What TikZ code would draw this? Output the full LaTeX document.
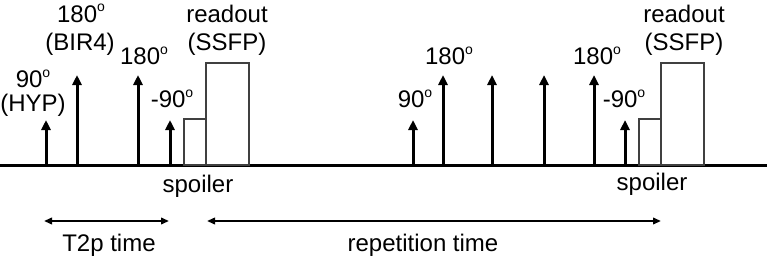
\documentclass[tikz,border=0pt]{standalone}
\usepackage{fontspec}
\setmainfont{Liberation Sans}
\usetikzlibrary{arrows.meta}
\newcommand{\dg}{\raisebox{10pt}{\fontsize{14}{14}\selectfont o}}
\begin{document}
\begin{tikzpicture}[x=1pt,y=-1pt,
  lbl/.style={anchor=base,inner sep=0pt,font=\fontsize{24}{28}\selectfont},
  pulse/.style={line width=3pt,-{Triangle[length=10pt,width=9pt]}},
  gbox/.style={draw=black!75,line width=2.5pt},
  span/.style={line width=2pt,{Triangle[length=8pt,width=6.5pt]}-{Triangle[length=8pt,width=6.5pt]}}]
\useasboundingbox (0,0) rectangle (768,257);
% time axis
\coordinate (a0) at (0,165);
\coordinate (a1) at (767,165);
\draw[line width=3pt] (a0) -- (a1);
% left pulses
\coordinate (p1b) at (46,165); \coordinate (p1t) at (46,120);
\coordinate (p2b) at (77,165); \coordinate (p2t) at (77,75);
\coordinate (p3b) at (138,165); \coordinate (p3t) at (138,75);
\coordinate (p4b) at (170,165); \coordinate (p4t) at (170,120);
\foreach \i in {1,2,3,4} \draw[pulse] (p\i b) -- (p\i t);
% right pulses
\coordinate (q1b) at (413,165); \coordinate (q1t) at (413,120);
\coordinate (q2b) at (443,165); \coordinate (q2t) at (443,75);
\coordinate (q3b) at (492,165); \coordinate (q3t) at (492,75);
\coordinate (q4b) at (544,165); \coordinate (q4t) at (544,75);
\coordinate (q5b) at (594,165); \coordinate (q5t) at (594,75);
\coordinate (q6b) at (625,165); \coordinate (q6t) at (625,120);
\foreach \i in {1,...,6} \draw[pulse] (q\i b) -- (q\i t);
% boxes
\draw[gbox] (184,165) rectangle (206,119);
\draw[gbox] (206,165) rectangle (249,63);
\draw[gbox] (639,165) rectangle (661,119);
\draw[gbox] (661,165) rectangle (704,63);
% labels left
\node[lbl] (l90) at (33,87) {90\dg};
\node[lbl] (lhyp) at (33,111) {(HYP)};
\node[lbl] (l180a) at (81,22) {180\dg};
\node[lbl] (lbir) at (80,50) {(BIR4)};
\node[lbl] (l180b) at (144,64) {180\dg};
\node[lbl] (lm90) at (172,107) {-90\dg};
\node[lbl] (lro) at (227,22) {readout};
\node[lbl] (lssfp) at (227,50) {(SSFP)};
\node[lbl] (lsp) at (198,192) {spoiler};
% labels right
\node[lbl] (r90) at (415,107) {90\dg};
\node[lbl] (r180a) at (449,64) {180\dg};
\node[lbl] (r180b) at (597,64) {180\dg};
\node[lbl] (rm90) at (624,107) {-90\dg};
\node[lbl] (rro) at (684,22) {readout};
\node[lbl] (rssfp) at (684,50) {(SSFP)};
\node[lbl] (rsp) at (652,190) {spoiler};
% spans
\coordinate (t0) at (44,221); \coordinate (t1) at (169,221);
\coordinate (r0) at (207,221); \coordinate (r1) at (661,221);
\draw[span] (t0) -- (t1);
\draw[span] (r0) -- (r1);
\node[lbl] (tt) at (109,251) {T2p time};
\node[lbl] (rt) at (423,251) {repetition time};
\end{tikzpicture}
\end{document}
